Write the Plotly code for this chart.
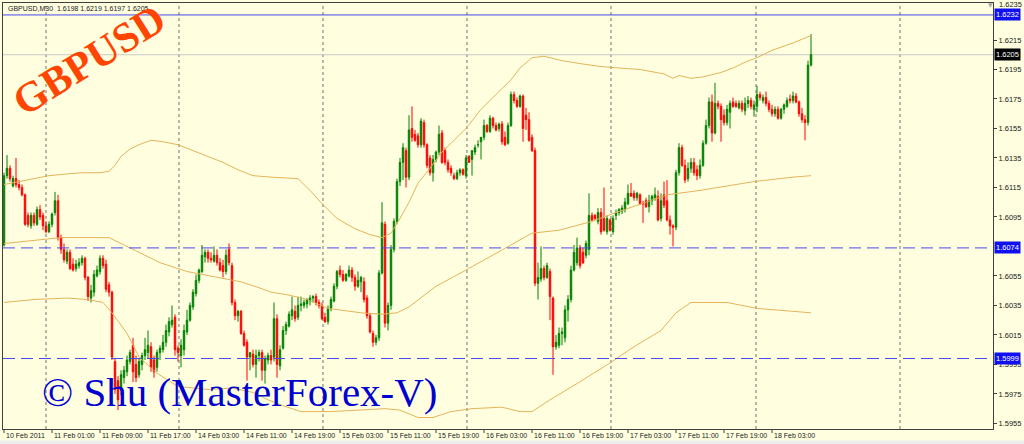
import plotly.graph_objects as go

# ---------------- data (GBPUSD M30) ----------------
tick_labels = ["10 Feb 2011", "11 Feb 01:00", "11 Feb 09:00", "11 Feb 17:00", "14 Feb 03:00",
               "14 Feb 11:00", "14 Feb 19:00", "15 Feb 03:00", "15 Feb 11:00", "15 Feb 19:00",
               "16 Feb 03:00", "16 Feb 11:00", "16 Feb 19:00", "17 Feb 03:00", "17 Feb 11:00",
               "17 Feb 19:00", "18 Feb 03:00"]

opens = [1.6076, 1.6123, 1.6128, 1.6116, 1.6121, 1.6117, 1.6115, 1.6110, 1.6096, 1.6089,
         1.6096, 1.6090, 1.6100, 1.6096, 1.6089, 1.6085, 1.6090, 1.6098, 1.6106, 1.6081,
         1.6073, 1.6065, 1.6071, 1.6063, 1.6060, 1.6062, 1.6064, 1.6067, 1.6054, 1.6040,
         1.6044, 1.6055, 1.6058, 1.6067, 1.6063, 1.6049, 1.6044, 1.5997, 1.5984, 1.5979,
         1.5986, 1.5990, 1.5997, 1.6008, 1.5995, 1.5988, 1.5995, 1.6001, 1.6003, 1.6007,
         1.5998, 1.5993, 1.6003, 1.6005, 1.6010, 1.6017, 1.6022, 1.6027, 1.6006, 1.6001,
         1.6005, 1.6017, 1.6025, 1.6034, 1.6043, 1.6052, 1.6058, 1.6068, 1.6071, 1.6067,
         1.6065, 1.6069, 1.6064, 1.6062, 1.6058, 1.6073, 1.6062, 1.6037, 1.6028, 1.6031,
         1.6016, 1.6010, 1.6000, 1.6002, 1.5995, 1.6001, 1.6003, 1.5991, 1.5998, 1.6001,
         1.6000, 1.6026, 1.5994, 1.6006, 1.6018, 1.6021, 1.6028, 1.6031, 1.6027, 1.6035,
         1.6035, 1.6036, 1.6038, 1.6040, 1.6041, 1.6037, 1.6035, 1.6027, 1.6024, 1.6033,
         1.6038, 1.6048, 1.6059, 1.6056, 1.6052, 1.6055, 1.6059, 1.6054, 1.6048, 1.6051,
         1.6051, 1.6040, 1.6028, 1.6016, 1.6010, 1.6013, 1.6057, 1.6090, 1.6023, 1.6035,
         1.6073, 1.6092, 1.6119, 1.6132, 1.6140, 1.6122, 1.6155, 1.6151, 1.6150, 1.6144,
         1.6159, 1.6144, 1.6135, 1.6125, 1.6134, 1.6139, 1.6152, 1.6140, 1.6132, 1.6128,
         1.6123, 1.6121, 1.6125, 1.6127, 1.6123, 1.6136, 1.6134, 1.6139, 1.6144, 1.6146,
         1.6149, 1.6157, 1.6153, 1.6162, 1.6157, 1.6155, 1.6158, 1.6149, 1.6145, 1.6157,
         1.6178, 1.6174, 1.6170, 1.6177, 1.6164, 1.6161, 1.6149, 1.6140, 1.6050, 1.6053,
         1.6060, 1.6054, 1.6058, 1.6040, 1.6007, 1.6008, 1.6016, 1.6013, 1.6032, 1.6039,
         1.6059, 1.6064, 1.6074, 1.6071, 1.6069, 1.6073, 1.6096, 1.6096, 1.6092, 1.6098,
         1.6094, 1.6085, 1.6093, 1.6085, 1.6096, 1.6098, 1.6099, 1.6100, 1.6104, 1.6111,
         1.6111, 1.6108, 1.6110, 1.6104, 1.6106, 1.6102, 1.6106, 1.6108, 1.6109, 1.6094,
         1.6110, 1.6106, 1.6093, 1.6089, 1.6088, 1.6125, 1.6142, 1.6130, 1.6121, 1.6128,
         1.6132, 1.6127, 1.6123, 1.6130, 1.6145, 1.6157, 1.6173, 1.6152, 1.6172, 1.6170,
         1.6164, 1.6159, 1.6166, 1.6173, 1.6172, 1.6169, 1.6172, 1.6167, 1.6172, 1.6174,
         1.6168, 1.6170, 1.6178, 1.6174, 1.6176, 1.6172, 1.6168, 1.6165, 1.6168, 1.6162,
         1.6168, 1.6170, 1.6175, 1.6174, 1.6177, 1.6173, 1.6165, 1.6161, 1.6159, 1.6198]

highs = [1.6125, 1.6137, 1.6130, 1.6123, 1.6135, 1.6120, 1.6117, 1.6111, 1.6098, 1.6098,
         1.6098, 1.6102, 1.6103, 1.6098, 1.6092, 1.6092, 1.6098, 1.6112, 1.6110, 1.6083,
         1.6077, 1.6073, 1.6073, 1.6067, 1.6066, 1.6067, 1.6069, 1.6068, 1.6055, 1.6049,
         1.6059, 1.6062, 1.6069, 1.6069, 1.6066, 1.6051, 1.6045, 1.5999, 1.5987, 1.5991,
         1.5994, 1.6001, 1.6005, 1.6013, 1.6001, 1.5999, 1.6003, 1.6013, 1.6018, 1.6010,
         1.6001, 1.6005, 1.6008, 1.6015, 1.6022, 1.6027, 1.6035, 1.6029, 1.6008, 1.6012,
         1.6022, 1.6032, 1.6037, 1.6046, 1.6056, 1.6060, 1.6076, 1.6073, 1.6073, 1.6071,
         1.6075, 1.6073, 1.6067, 1.6066, 1.6073, 1.6077, 1.6064, 1.6039, 1.6032, 1.6032,
         1.6018, 1.6012, 1.6003, 1.6005, 1.6005, 1.6005, 1.6005, 1.6001, 1.6003, 1.6005,
         1.6037, 1.6029, 1.6008, 1.6021, 1.6024, 1.6031, 1.6041, 1.6035, 1.6041, 1.6041,
         1.6039, 1.6040, 1.6042, 1.6042, 1.6043, 1.6039, 1.6037, 1.6030, 1.6035, 1.6041,
         1.6050, 1.6059, 1.6062, 1.6059, 1.6057, 1.6062, 1.6061, 1.6056, 1.6058, 1.6055,
         1.6054, 1.6042, 1.6030, 1.6018, 1.6015, 1.6059, 1.6105, 1.6092, 1.6037, 1.6076,
         1.6094, 1.6121, 1.6135, 1.6145, 1.6142, 1.6164, 1.6170, 1.6154, 1.6152, 1.6162,
         1.6161, 1.6145, 1.6137, 1.6137, 1.6140, 1.6157, 1.6154, 1.6142, 1.6134, 1.6130,
         1.6125, 1.6127, 1.6128, 1.6128, 1.6137, 1.6137, 1.6140, 1.6144, 1.6147, 1.6149,
         1.6161, 1.6158, 1.6164, 1.6163, 1.6159, 1.6159, 1.6160, 1.6153, 1.6159, 1.6180,
         1.6180, 1.6176, 1.6178, 1.6178, 1.6169, 1.6166, 1.6151, 1.6142, 1.6064, 1.6075,
         1.6062, 1.6064, 1.6060, 1.6041, 1.6015, 1.6020, 1.6020, 1.6035, 1.6042, 1.6062,
         1.6076, 1.6081, 1.6076, 1.6074, 1.6079, 1.6111, 1.6098, 1.6097, 1.6101, 1.6101,
         1.6115, 1.6096, 1.6094, 1.6096, 1.6100, 1.6101, 1.6103, 1.6108, 1.6117, 1.6118,
         1.6113, 1.6112, 1.6111, 1.6106, 1.6108, 1.6110, 1.6110, 1.6115, 1.6113, 1.6111,
         1.6119, 1.6120, 1.6096, 1.6090, 1.6127, 1.6145, 1.6144, 1.6134, 1.6132, 1.6135,
         1.6135, 1.6130, 1.6134, 1.6147, 1.6161, 1.6176, 1.6178, 1.6186, 1.6174, 1.6172,
         1.6168, 1.6171, 1.6174, 1.6176, 1.6174, 1.6174, 1.6174, 1.6176, 1.6177, 1.6176,
         1.6174, 1.6184, 1.6180, 1.6178, 1.6180, 1.6174, 1.6171, 1.6170, 1.6170, 1.6169,
         1.6172, 1.6176, 1.6178, 1.6180, 1.6179, 1.6174, 1.6169, 1.6164, 1.6201, 1.6219]

lows = [1.6075, 1.6121, 1.6119, 1.6115, 1.6115, 1.6113, 1.6109, 1.6089, 1.6088, 1.6087,
        1.6089, 1.6089, 1.6093, 1.6086, 1.6084, 1.6084, 1.6088, 1.6096, 1.6079, 1.6070,
        1.6064, 1.6063, 1.6059, 1.6058, 1.6058, 1.6060, 1.6062, 1.6052, 1.6038, 1.6037,
        1.6041, 1.6054, 1.6056, 1.6060, 1.6044, 1.6041, 1.5998, 1.5975, 1.5964, 1.5974,
        1.5982, 1.5987, 1.5995, 1.5983, 1.5983, 1.5986, 1.5991, 1.5998, 1.5999, 1.5990,
        1.5986, 1.5990, 1.5998, 1.6003, 1.6007, 1.6014, 1.6020, 1.6001, 1.5997, 1.5993,
        1.6001, 1.6015, 1.6024, 1.6032, 1.6041, 1.6050, 1.6057, 1.6064, 1.6064, 1.6064,
        1.6064, 1.6062, 1.6058, 1.6054, 1.6056, 1.6062, 1.6035, 1.6025, 1.6024, 1.6015,
        1.6007, 1.5984, 1.5991, 1.5993, 1.5986, 1.5997, 1.5984, 1.5982, 1.5995, 1.5995,
        1.5997, 1.5986, 1.5991, 1.6005, 1.6015, 1.6020, 1.6025, 1.6024, 1.6025, 1.6031,
        1.6033, 1.6033, 1.6035, 1.6037, 1.6035, 1.6033, 1.6025, 1.6023, 1.6022, 1.6031,
        1.6037, 1.6046, 1.6054, 1.6051, 1.6051, 1.6054, 1.6051, 1.6045, 1.6047, 1.6044,
        1.6037, 1.6026, 1.6016, 1.6007, 1.6008, 1.6011, 1.6056, 1.6020, 1.6018, 1.6032,
        1.6071, 1.6090, 1.6116, 1.6120, 1.6115, 1.6120, 1.6146, 1.6146, 1.6142, 1.6142,
        1.6142, 1.6128, 1.6123, 1.6119, 1.6132, 1.6137, 1.6131, 1.6130, 1.6125, 1.6123,
        1.6120, 1.6120, 1.6123, 1.6123, 1.6121, 1.6132, 1.6123, 1.6137, 1.6142, 1.6134,
        1.6147, 1.6152, 1.6152, 1.6155, 1.6153, 1.6153, 1.6144, 1.6143, 1.6144, 1.6156,
        1.6172, 1.6169, 1.6169, 1.6146, 1.6154, 1.6146, 1.6139, 1.6048, 1.6039, 1.6051,
        1.6052, 1.6053, 1.6025, 1.5988, 1.6005, 1.6006, 1.6008, 1.6010, 1.6024, 1.6037,
        1.6058, 1.6062, 1.6060, 1.6063, 1.6067, 1.6069, 1.6092, 1.6093, 1.6090, 1.6083,
        1.6085, 1.6083, 1.6085, 1.6083, 1.6093, 1.6096, 1.6097, 1.6098, 1.6103, 1.6109,
        1.6106, 1.6106, 1.6103, 1.6091, 1.6101, 1.6098, 1.6103, 1.6106, 1.6092, 1.6092,
        1.6101, 1.6092, 1.6083, 1.6075, 1.6086, 1.6123, 1.6129, 1.6118, 1.6119, 1.6125,
        1.6123, 1.6120, 1.6121, 1.6129, 1.6144, 1.6155, 1.6146, 1.6151, 1.6168, 1.6146,
        1.6157, 1.6157, 1.6155, 1.6169, 1.6169, 1.6168, 1.6166, 1.6164, 1.6169, 1.6168,
        1.6163, 1.6166, 1.6174, 1.6172, 1.6170, 1.6166, 1.6163, 1.6163, 1.6161, 1.6161,
        1.6165, 1.6169, 1.6172, 1.6172, 1.6172, 1.6163, 1.6159, 1.6147, 1.6157, 1.6197]

closes = [1.6123, 1.6128, 1.6121, 1.6121, 1.6117, 1.6115, 1.6110, 1.6090, 1.6090, 1.6096,
          1.6091, 1.6100, 1.6095, 1.6089, 1.6085, 1.6090, 1.6097, 1.6106, 1.6081, 1.6073,
          1.6066, 1.6071, 1.6060, 1.6059, 1.6063, 1.6064, 1.6067, 1.6054, 1.6041, 1.6045,
          1.6056, 1.6059, 1.6067, 1.6062, 1.6046, 1.6044, 1.6000, 1.5978, 1.5971, 1.5988,
          1.5991, 1.5998, 1.6003, 1.5990, 1.5986, 1.5997, 1.6001, 1.6005, 1.6008, 1.5993,
          1.5990, 1.6003, 1.6006, 1.6010, 1.6018, 1.6024, 1.6025, 1.6005, 1.6003, 1.6008,
          1.6018, 1.6025, 1.6035, 1.6044, 1.6052, 1.6059, 1.6069, 1.6071, 1.6067, 1.6066,
          1.6069, 1.6064, 1.6059, 1.6058, 1.6069, 1.6064, 1.6037, 1.6028, 1.6031, 1.6016,
          1.6008, 1.6000, 1.6003, 1.5995, 1.6001, 1.6003, 1.5991, 1.5999, 1.6001, 1.5998,
          1.6026, 1.5995, 1.6005, 1.6018, 1.6022, 1.6029, 1.6032, 1.6026, 1.6035, 1.6036,
          1.6037, 1.6039, 1.6040, 1.6041, 1.6037, 1.6035, 1.6026, 1.6024, 1.6033, 1.6039,
          1.6048, 1.6058, 1.6056, 1.6052, 1.6056, 1.6059, 1.6054, 1.6048, 1.6052, 1.6054,
          1.6039, 1.6028, 1.6017, 1.6010, 1.6013, 1.6057, 1.6091, 1.6023, 1.6035, 1.6073,
          1.6092, 1.6119, 1.6132, 1.6142, 1.6122, 1.6154, 1.6149, 1.6147, 1.6144, 1.6160,
          1.6144, 1.6130, 1.6125, 1.6134, 1.6139, 1.6151, 1.6132, 1.6132, 1.6127, 1.6125,
          1.6121, 1.6125, 1.6127, 1.6124, 1.6135, 1.6132, 1.6140, 1.6142, 1.6144, 1.6149,
          1.6157, 1.6153, 1.6162, 1.6157, 1.6154, 1.6158, 1.6146, 1.6144, 1.6157, 1.6178,
          1.6174, 1.6170, 1.6177, 1.6155, 1.6161, 1.6147, 1.6140, 1.6050, 1.6054, 1.6060,
          1.6054, 1.6062, 1.6041, 1.6007, 1.6010, 1.6016, 1.6017, 1.6032, 1.6039, 1.6059,
          1.6071, 1.6074, 1.6062, 1.6064, 1.6077, 1.6096, 1.6093, 1.6094, 1.6098, 1.6085,
          1.6086, 1.6094, 1.6086, 1.6094, 1.6098, 1.6100, 1.6101, 1.6105, 1.6111, 1.6109,
          1.6108, 1.6111, 1.6104, 1.6104, 1.6102, 1.6106, 1.6109, 1.6110, 1.6093, 1.6106,
          1.6103, 1.6093, 1.6089, 1.6088, 1.6125, 1.6142, 1.6130, 1.6120, 1.6128, 1.6132,
          1.6125, 1.6123, 1.6130, 1.6145, 1.6157, 1.6173, 1.6152, 1.6172, 1.6170, 1.6161,
          1.6159, 1.6168, 1.6172, 1.6170, 1.6170, 1.6172, 1.6168, 1.6172, 1.6174, 1.6170,
          1.6171, 1.6178, 1.6176, 1.6176, 1.6172, 1.6168, 1.6165, 1.6168, 1.6162, 1.6168,
          1.6171, 1.6174, 1.6174, 1.6177, 1.6173, 1.6165, 1.6161, 1.6159, 1.6198, 1.6205]

# Bollinger bands (bar index, price)
upper_bars = [0, 5, 10, 15, 20, 26, 32, 35, 37, 39, 42, 45, 49, 53, 58, 63, 68, 73, 78, 83,
              89, 98, 102, 106, 111, 117, 122, 126, 129, 132, 135, 138, 142, 146, 150, 154, 159,
              164, 169, 172, 176, 180, 186, 192, 199, 205, 212, 220, 223, 225, 229, 233, 239,
              243, 247, 251, 256, 263, 269]
upper_band = [1.6117, 1.6119, 1.6121, 1.6123, 1.6124, 1.6125, 1.6125, 1.6126, 1.6130, 1.6136,
              1.6141, 1.6144, 1.6147, 1.6146, 1.6144, 1.6140, 1.6136, 1.6132, 1.6127, 1.6123,
              1.6122, 1.6121, 1.6113, 1.6104, 1.6094, 1.6087, 1.6083, 1.6081, 1.6084, 1.6094,
              1.6105, 1.6118, 1.6128, 1.6139, 1.6147, 1.6155, 1.6168, 1.6178, 1.6188, 1.6196,
              1.6203, 1.6204, 1.6201, 1.6199, 1.6197, 1.6196, 1.6195, 1.6192, 1.6189, 1.6191,
              1.6189, 1.6190, 1.6193, 1.6196, 1.6200, 1.6203, 1.6208, 1.6213, 1.6218]
middle_bars = [0, 10, 19, 26, 35, 39, 43, 52, 61, 71, 79, 85, 89, 95, 101, 108, 119, 126,
               131, 135, 144, 154, 162, 169, 176, 185, 196, 204, 221, 232, 250, 263, 269]
middle_band = [1.6077, 1.6079, 1.6081, 1.6081, 1.6081, 1.6077, 1.6073, 1.6064, 1.6058, 1.6054,
               1.6051, 1.6047, 1.6044, 1.6042, 1.6039, 1.6033, 1.6030, 1.6029, 1.6030, 1.6034,
               1.6048, 1.6059, 1.6068, 1.6076, 1.6084, 1.6086, 1.6092, 1.6098, 1.6110, 1.6113,
               1.6119, 1.6122, 1.6123]
lower_bars = [0, 10, 21, 28, 33, 36, 41, 45, 51, 58, 68, 76, 83, 88, 93, 99, 109, 119, 127,
              132, 138, 143, 149, 156, 166, 172, 176, 179, 182, 191, 202, 210, 219, 224, 229,
              241, 251, 269]
lower_band = [1.6037, 1.6039, 1.6040, 1.6039, 1.6037, 1.6030, 1.6016, 1.6000, 1.5989, 1.5980,
              1.5978, 1.5979, 1.5976, 1.5971, 1.5967, 1.5963, 1.5963, 1.5964, 1.5965, 1.5964,
              1.5959, 1.5959, 1.5963, 1.5965, 1.5966, 1.5963, 1.5963, 1.5967, 1.5971, 1.5982,
              1.5996, 1.6007, 1.6018, 1.6030, 1.6037, 1.6037, 1.6033, 1.6030]

level_lines = [1.6232, 1.6074, 1.5999]
bid_price = 1.6205
y_ticks = [1.5955, 1.5975, 1.5995, 1.6015, 1.6035, 1.6055, 1.6095, 1.6115,
           1.6135, 1.6155, 1.6175, 1.6195, 1.6215]

# ---------------- figure ----------------
W, H = 1024, 444
L, R, T, B = 3, 31, 3, 15
PW, PH = W - L - R, H - T - B


def px(x):
    return (x - L) / PW


def py(y):
    return 1 - (y - T) / PH


bars = list(range(len(closes)))
tick_bars = [16 * k for k in range(len(tick_labels))]

fig = go.Figure()

band_color = "#E3B45A"
for xs, ys in ((upper_bars, upper_band), (middle_bars, middle_band), (lower_bars, lower_band)):
    fig.add_trace(go.Scatter(x=xs, y=ys, mode="lines", line=dict(color=band_color, width=1),
                             hoverinfo="skip", showlegend=False))

fig.add_trace(go.Candlestick(
    x=bars, open=opens, high=highs, low=lows, close=closes,
    increasing=dict(line=dict(color="#008000", width=1), fillcolor="#008000"),
    decreasing=dict(line=dict(color="#FF0000", width=1), fillcolor="#FF0000"),
    whiskerwidth=0, showlegend=False))

shapes = []
# bottom window strip
shapes.append(dict(type="rect", xref="paper", yref="paper", x0=px(0), x1=px(W), y0=py(440.5), y1=py(H + 2),
                   line=dict(width=0), fillcolor="#EDEDED", layer="below"))
for xg in (14, 58.33, 106.33, 154.33, 202.33, 250.67, 298.67):
    shapes.append(dict(type="line", xref="x", yref="paper", x0=xg, x1=xg, y0=0, y1=1,
                       line=dict(color="#707070", width=1, dash="dot"), layer="below"))
# x tick marks below the axis
for tb in tick_bars:
    shapes.append(dict(type="line", xref="x", yref="paper", x0=tb, x1=tb, y0=0, y1=py(433),
                       line=dict(color="#404040", width=1), layer="above"))
shapes.append(dict(type="line", xref="paper", yref="y", x0=0, x1=1, y0=bid_price, y1=bid_price,
                   line=dict(color="#C8C8C8", width=1), layer="below"))
shapes.append(dict(type="line", xref="paper", yref="y", x0=0, x1=1, y0=level_lines[0], y1=level_lines[0],
                   line=dict(color="#4848F0", width=1), layer="above"))
for lv in level_lines[1:]:
    shapes.append(dict(type="line", xref="paper", yref="y", x0=0, x1=1, y0=lv, y1=lv,
                       line=dict(color="#4848F0", width=1, dash="12px,6px"), layer="above"))

lab_font = dict(family="Liberation Sans", size=7.5, color="#202020")
ann = []
for tb, tl in zip(tick_bars, tick_labels):
    ann.append(dict(text=tl, xref="x", yref="paper", x=tb, xshift=0, y=py(435.5),
                    xanchor="left", yanchor="middle", showarrow=False,
                    font=dict(family="Liberation Sans", size=7, color="#202020")))
ann.append(dict(text="GBPUSD,M30\u00a0\u00a01.6198 1.6219 1.6197 1.6205", xref="paper", yref="paper",
                x=px(6), y=py(8.5), xanchor="left", yanchor="middle", showarrow=False,
                font=dict(family="Liberation Sans", size=7, color="#202020")))
ann.append(dict(text="1.6235", xref="paper", yref="paper", x=1, xshift=4, y=py(4),
                xanchor="left", yanchor="middle", showarrow=False, font=lab_font))
for lv in level_lines:
    ann.append(dict(text=f"{lv:.4f}", xref="paper", yref="y", x=1, xshift=1, y=lv,
                    xanchor="left", yanchor="middle", showarrow=False, bgcolor="#1010F0",
                    borderpad=1, font=dict(family="Liberation Sans", size=7.5, color="#FFFFFF")))
ann.append(dict(text=f"{bid_price:.4f}", xref="paper", yref="y", x=1, xshift=1, y=bid_price,
                xanchor="left", yanchor="middle", showarrow=False, bgcolor="#000000",
                borderpad=1, font=dict(family="Liberation Sans", size=7.5, color="#FFFFFF")))
ann.append(dict(text="\u25BC", xref="paper", yref="paper", x=px(990), y=py(5),
                xanchor="center", yanchor="middle", showarrow=False,
                font=dict(family="DejaVu Sans", size=6, color="#A8A8A8")))
ann.append(dict(text="<b>GBPUSD</b>", xref="paper", yref="paper", x=px(89), y=py(60),
                xanchor="center", yanchor="middle", showarrow=False, textangle=-32,
                font=dict(family="Liberation Serif", size=42, color="#FF4500")))
ann.append(dict(text="\u00a9 Shu (MasterForex-V)", xref="paper", yref="paper", x=px(40), y=py(392),
                xanchor="left", yanchor="middle", showarrow=False,
                font=dict(family="Liberation Serif", size=41, color="#0000D0")))

fig.update_layout(
    template="none",
    width=W, height=H, margin=dict(l=L, r=R, t=T, b=B, pad=0),
    plot_bgcolor="#FFFFE0", paper_bgcolor="#FFFFE0",
    shapes=shapes, annotations=ann, showlegend=False, hovermode=False,
    xaxis=dict(range=[-1 / 3, 329 + 2 / 3], rangeslider=dict(visible=False), showgrid=False,
               zeroline=False, showticklabels=False, ticks="", tickmode="array", tickvals=[],
               showline=True, linecolor="#404040", linewidth=1, mirror=True),
    yaxis=dict(side="right", range=[1.59512, 1.62401], showgrid=False,
               zeroline=False, tickmode="array", tickvals=y_ticks,
               ticktext=[f"{v:.4f}" for v in y_ticks],
               ticks="outside", ticklen=3, tickcolor="#404040", tickfont=lab_font,
               showline=True, linecolor="#404040", linewidth=1, mirror=True),
)

fig.write_html("out.html", config={"displayModeBar": False},
               post_script="document.body.style.margin='0';document.body.style.overflow='hidden';")
